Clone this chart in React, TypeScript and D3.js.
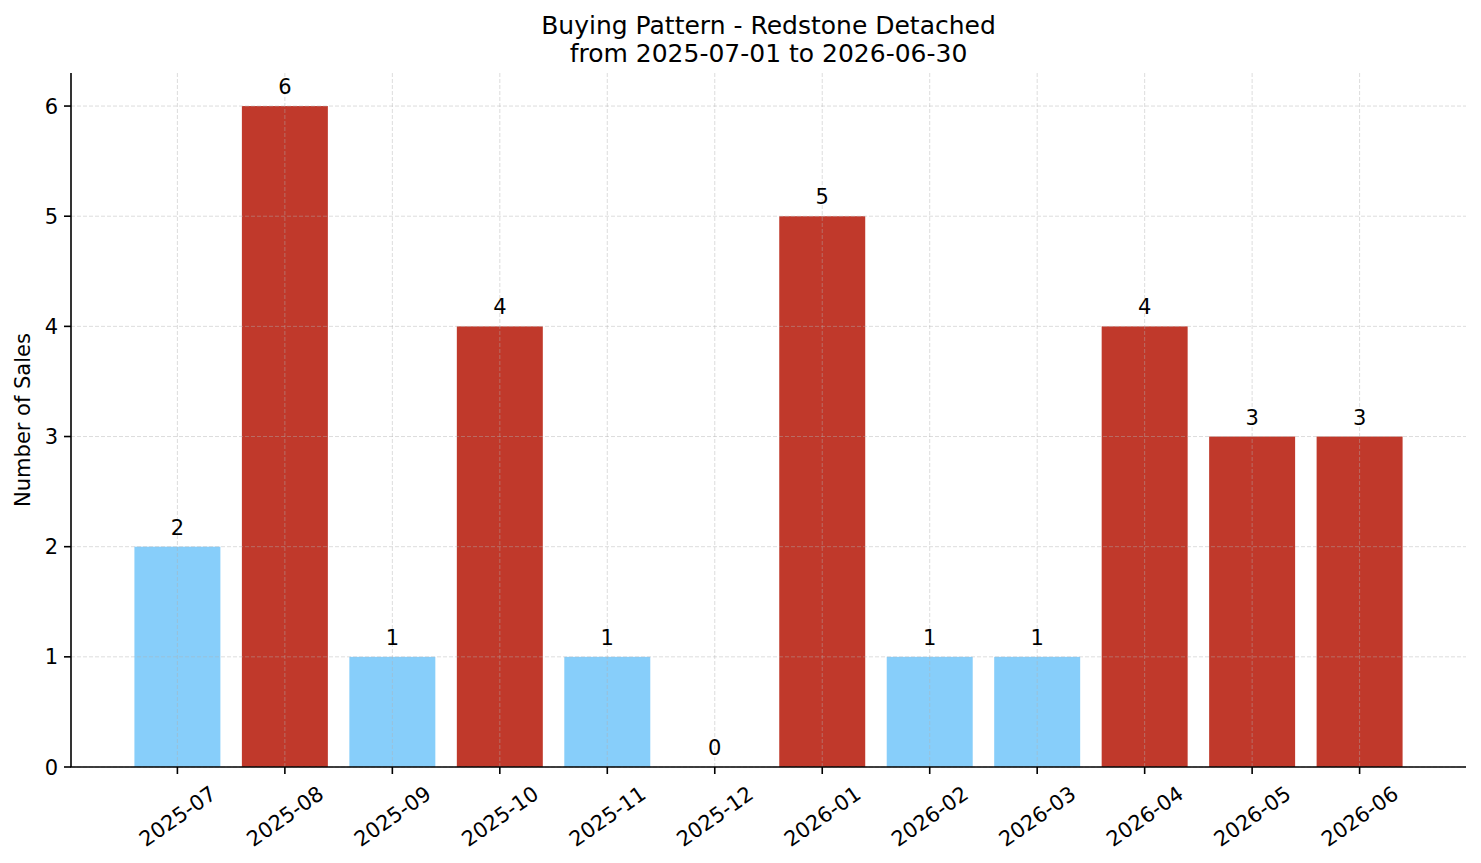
import React from 'react';
import * as d3 from 'd3';

// Monthly sales counts
const months = [
  '2025-07', '2025-08', '2025-09', '2025-10', '2025-11', '2025-12',
  '2026-01', '2026-02', '2026-03', '2026-04', '2026-05', '2026-06',
];
const sales = [2, 6, 1, 4, 1, 0, 5, 1, 1, 4, 3, 3];
const yTicks = [0, 1, 2, 3, 4, 5, 6];
const titleLines = ['Buying Pattern - Redstone Detached', 'from 2025-07-01 to 2026-06-30'];

const W = 1481;
const H = 863;
const margin = { top: 73, right: 15, bottom: 96, left: 71 };
const FONT = '"DejaVu Sans", sans-serif';
const HIGH = '#c0392b';
const LOW = '#87cefa';
const ROT = 35;

export default function App() {
  const x = d3.scaleLinear()
    .domain([-0.99, months.length - 1 + 0.99])
    .range([margin.left, W - margin.right]);
  const y = d3.scaleLinear()
    .domain([0, 6.3])
    .range([H - margin.bottom, margin.top]);

  const x0 = margin.left;
  const x1 = W - margin.right;
  const yBase = y(0);
  const barW = x(0.8) - x(0);

  // rotated tick label geometry (approx text box)
  const labelW = 80;
  const labelH = 20;
  const rad = (ROT * Math.PI) / 180;
  const rotH = labelW * Math.sin(rad) + labelH * Math.cos(rad);

  return (
    <svg width={W} height={H} style={{ position: 'absolute', left: 0, top: 0, background: '#fff' }}
      fontFamily={FONT}>
      {/* title */}
      {titleLines.map((t, i) => (
        <text key={t} x={(x0 + x1) / 2} y={34 + i * 28} textAnchor="middle" fontSize={25} fill="#000">{t}</text>
      ))}

      {/* bars */}
      {sales.map((v, i) => (
        v > 0 ? (
          <rect key={months[i]} x={x(i) - barW / 2} y={y(v)} width={barW} height={yBase - y(v)}
            fill={v >= 3 ? HIGH : LOW} />
        ) : null
      ))}

      {/* grid, drawn over bars */}
      <g stroke="#b0b0b0" strokeOpacity={0.55} strokeWidth={0.8} strokeDasharray="4 2">
        {yTicks.map(t => (
          <line key={'gy' + t} x1={x0} x2={x1} y1={y(t)} y2={y(t)} />
        ))}
        {months.map((m, i) => (
          <line key={'gx' + m} x1={x(i)} x2={x(i)} y1={margin.top} y2={yBase} />
        ))}
      </g>

      {/* value labels */}
      {sales.map((v, i) => (
        <text key={'v' + months[i]} x={x(i)} y={y(v) - 12} textAnchor="middle" fontSize={21} fill="#000">{v}</text>
      ))}

      {/* spines */}
      <line x1={x0} x2={x0} y1={margin.top} y2={yBase} stroke="#000" strokeWidth={1.6} />
      <line x1={x0 - 0.8} x2={x1} y1={yBase} y2={yBase} stroke="#000" strokeWidth={1.6} />

      {/* y axis ticks */}
      {yTicks.map(t => (
        <g key={'yt' + t}>
          <line x1={x0 - 7} x2={x0} y1={y(t)} y2={y(t)} stroke="#000" strokeWidth={1.6} />
          <text x={x0 - 13} y={y(t)} dy="0.36em" textAnchor="end" fontSize={21} fill="#000">{t}</text>
        </g>
      ))}

      {/* x axis ticks */}
      {months.map((m, i) => (
        <g key={'xt' + m}>
          <line x1={x(i)} x2={x(i)} y1={yBase} y2={yBase + 7} stroke="#000" strokeWidth={1.6} />
          <g transform={`translate(${x(i)},${yBase + 18 + rotH / 2}) rotate(${-ROT})`}>
            <text textAnchor="middle" dy="0.36em" fontSize={21} fill="#000">{m}</text>
          </g>
        </g>
      ))}

      {/* y axis label */}
      <text transform={`translate(30,${(margin.top + yBase) / 2}) rotate(-90)`} textAnchor="middle"
        fontSize={21} fill="#000">Number of Sales</text>
    </svg>
  );
}
